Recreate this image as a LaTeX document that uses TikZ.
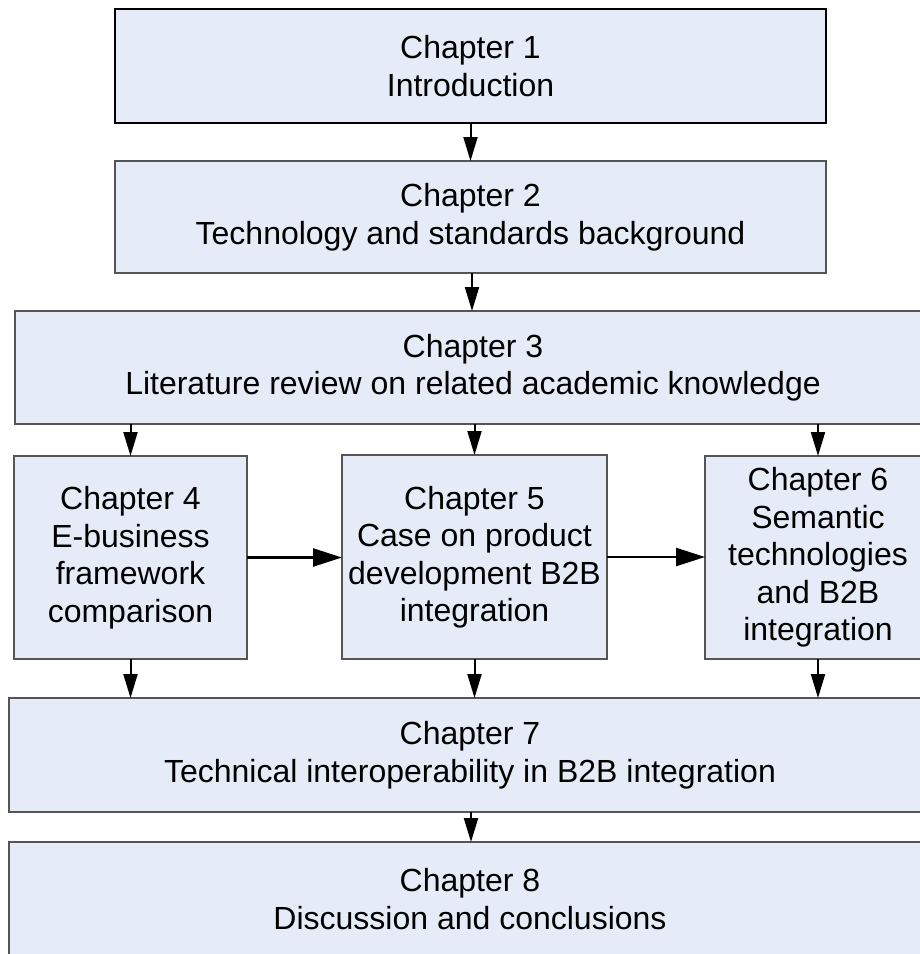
\documentclass[tikz,border=0pt]{standalone}
\usepackage{fontspec}
\setmainfont{Liberation Sans}
\usetikzlibrary{arrows.meta}
\definecolor{boxfill}{RGB}{230,236,247}
\definecolor{boxline}{RGB}{85,85,85}
\begin{document}
\begin{tikzpicture}[x=1pt,y=-1pt,
  chbox/.style={draw=boxline, line width=1.2pt, fill=boxfill, align=center,
    inner sep=0pt, outer sep=0pt, font=\fontsize{32}{37.5}\selectfont},
  varrow/.style={line width=2pt, -{Triangle[length=24pt,width=14pt]}},
  harrow/.style={line width=2.4pt, -{Triangle[length=29pt,width=18pt]}}]
\useasboundingbox (0,0) rectangle (920,954);
\begin{scope}
\clip (0,0) rectangle (920,954);
\node[chbox, draw=black, line width=2.2pt, minimum width=711pt, minimum height=114pt] (c1) at (470.5,66) {Chapter 1\\Introduction};
\node[chbox, minimum width=711pt, minimum height=112pt] (c2) at (470.5,217) {Chapter 2\\Technology and standards background};
\node[chbox, minimum width=916pt, minimum height=113pt] (c3) at (473,367.5) {Chapter 3\\Literature review on related academic knowledge};
\node[chbox, minimum width=233pt, minimum height=203pt] (c4) at (130.5,557.5) {Chapter 4\\E-business\\framework\\comparison};
\node[chbox, minimum width=265pt, minimum height=204pt] (c5) at (474.5,557) {Chapter 5\\Case on product\\development B2B\\integration};
\node[chbox, minimum width=226pt, minimum height=203pt] (c6) at (818,557.5) {Chapter 6\\Semantic\\technologies\\and B2B\\integration};
\node[chbox, minimum width=922pt, minimum height=114pt] (c7) at (470,755) {Chapter 7\\Technical interoperability in B2B integration};
\node[chbox, minimum width=922pt, minimum height=114pt] (c8) at (470,899) {Chapter 8\\Discussion and conclusions};
\coordinate (xa) at (472,0);
\coordinate (xb) at (471,0);
\draw[varrow] (c1.south) -- (c2.north);
\draw[varrow] (c2.south -| xa) -- (c3.north -| xa);
\draw[varrow] (c3.south -| c4.north) -- (c4.north);
\draw[varrow] (c3.south -| c5.north) -- (c5.north);
\draw[varrow] (c3.south -| c6.north) -- (c6.north);
\draw[harrow] (c4.east) -- (c4.east -| c5.west);
\draw[harrow] (c5.east) -- (c5.east -| c6.west);
\draw[varrow] (c4.south) -- (c4.south |- c7.north);
\draw[varrow] (c5.south) -- (c5.south |- c7.north);
\draw[varrow] (c6.south) -- (c6.south |- c7.north);
\draw[varrow] (c7.south -| xb) -- (c8.north -| xb);
\end{scope}
\end{tikzpicture}
\end{document}
